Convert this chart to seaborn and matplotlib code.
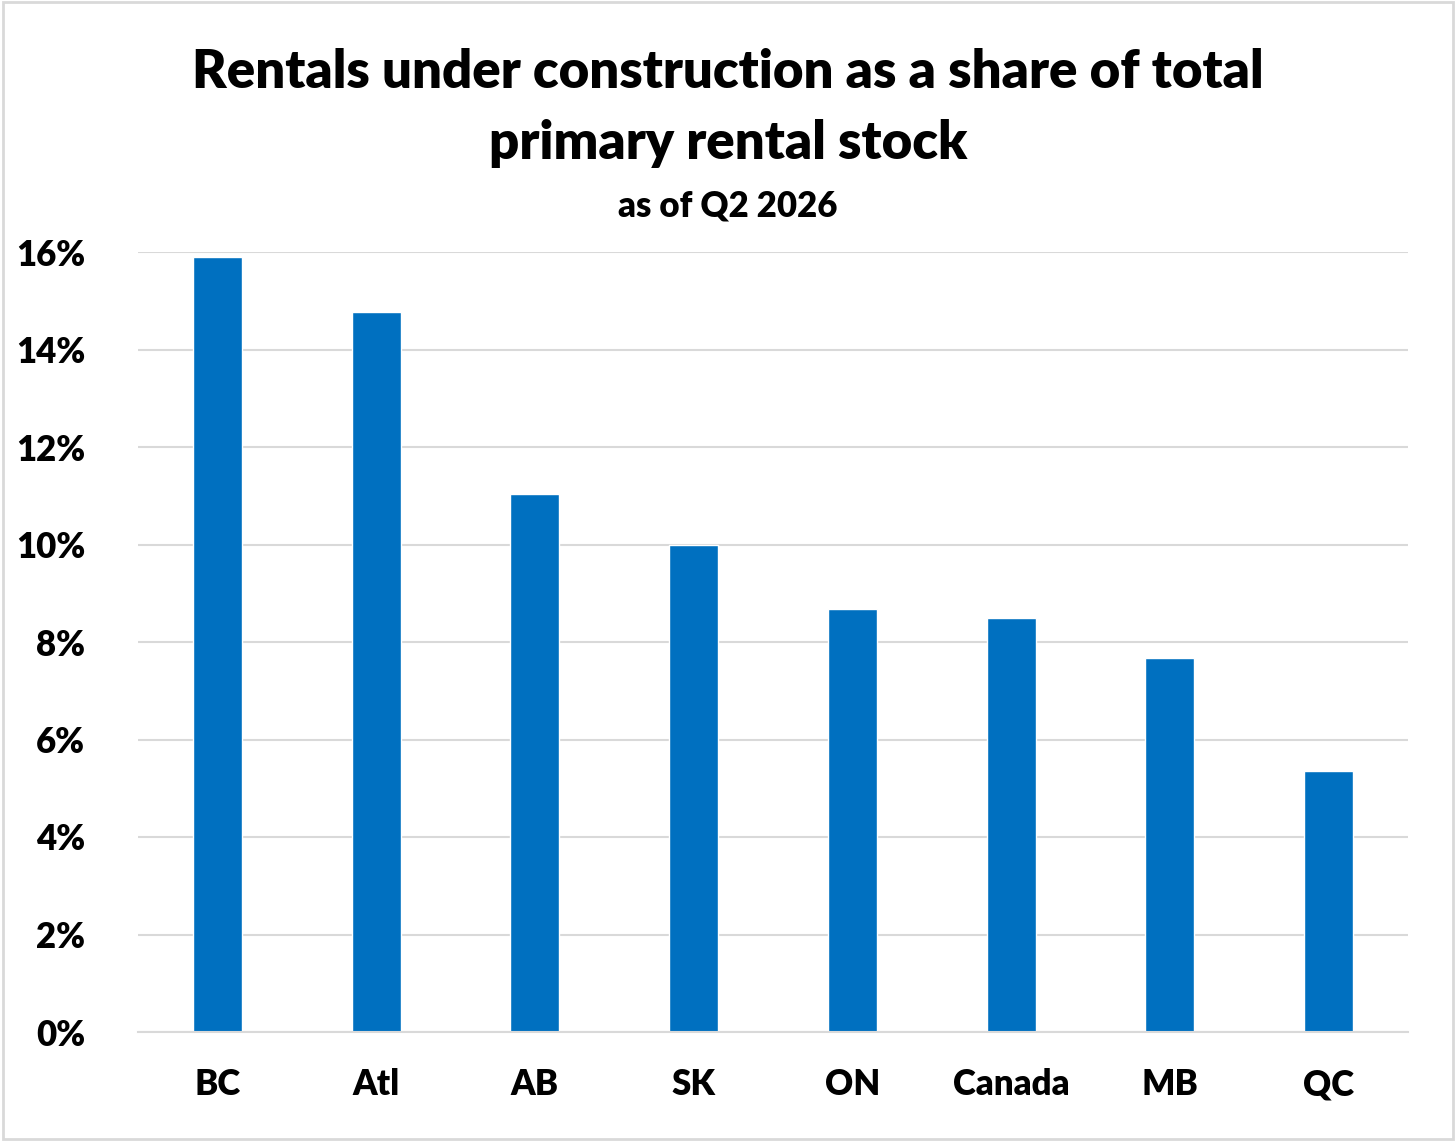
import matplotlib
matplotlib.use("Agg")
import matplotlib.pyplot as plt
import seaborn as sns
import pandas as pd
from matplotlib.ticker import FuncFormatter
from matplotlib.patches import Rectangle

regions = ["BC", "Atl", "AB", "SK", "ON", "Canada", "MB", "QC"]
share = [15.9, 14.77, 11.04, 9.99, 8.68, 8.5, 7.67, 5.35]

df = pd.DataFrame({"region": regions, "share": share})

sns.set_theme(style="white")
plt.rcParams["font.family"] = ["Lato", "DejaVu Sans"]
plt.rcParams["text.color"] = "black"
plt.rcParams["xtick.color"] = "black"
plt.rcParams["ytick.color"] = "black"

fig = plt.figure(figsize=(14.56, 11.41), dpi=100)
ax = fig.add_axes([138 / 1456, 1 - 1032 / 1141, 1270 / 1456, 780 / 1141])

sns.barplot(data=df, x="region", y="share", color="#0070C0", width=0.31,
            saturation=1, ax=ax)

ax.set_ylim(0, 16)
ax.set_yticks(range(0, 17, 2))
ax.yaxis.set_major_formatter(FuncFormatter(lambda v, p: f"{v:.0f}%"))
ax.grid(axis="y", color="#d9d9d9", linewidth=1.5)
ax.set_axisbelow(True)
for s in ["top", "right", "left"]:
    ax.spines[s].set_visible(False)
ax.spines["bottom"].set_color("#d9d9d9")
ax.spines["bottom"].set_linewidth(1.5)
ax.set_xlabel("")
ax.set_ylabel("")
ax.tick_params(axis="x", pad=26, length=0)
ax.tick_params(axis="y", pad=38, length=0)
for lbl in ax.get_xticklabels() + ax.get_yticklabels():
    lbl.set_fontsize(25)
    lbl.set_fontweight("heavy")

fig.text(0.5, 1 - 72 / 1141, "Rentals under construction as a share of total",
         ha="center", va="center", fontsize=38, fontweight="heavy")
fig.text(0.5, 1 - 144 / 1141, "primary rental stock",
         ha="center", va="center", fontsize=38, fontweight="heavy")
fig.text(0.5, 1 - 206 / 1141, "as of Q2 2026",
         ha="center", va="center", fontsize=25, fontweight="heavy")

fig.patches.append(Rectangle((0.002, 0.002), 0.996, 0.996, transform=fig.transFigure,
                             fill=False, edgecolor="#d9d9d9", linewidth=2))

fig.savefig("out.png", dpi=100, facecolor="white")
